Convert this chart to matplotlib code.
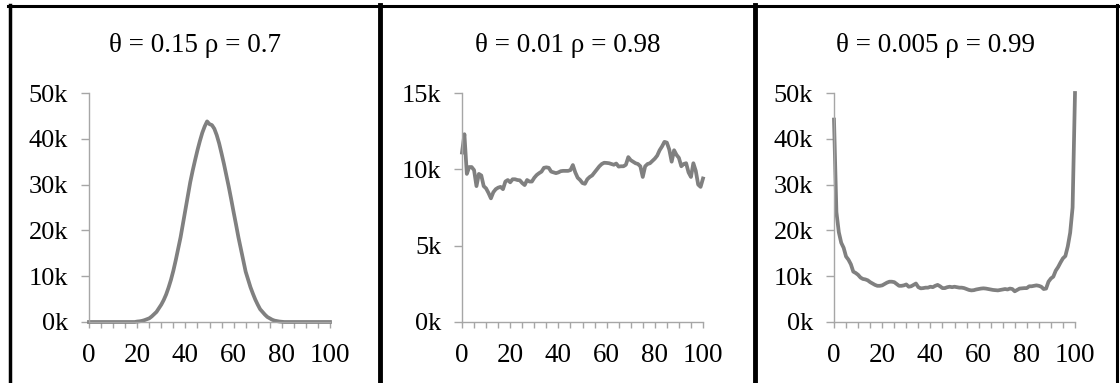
import matplotlib
matplotlib.use("Agg")
import matplotlib.pyplot as plt
from matplotlib.lines import Line2D

plt.rcParams['font.family'] = ['Liberation Serif', 'DejaVu Serif']

# x positions shared by all three panels
x = list(range(0, 101))

# theta = 0.15, rho = 0.7 (values in thousands)
series1 = [0.0] * 20 + [
    0.1, 0.15, 0.25, 0.4, 0.6, 0.8, 1.2, 1.7, 2.2, 3.0,
    3.8, 4.8, 6.0, 7.5, 9.2, 11.2, 13.5, 16.0, 18.5, 21.5,
    24.5, 27.5, 30.5, 33.0, 35.3, 37.5, 39.5, 41.3, 42.7, 43.8,
    43.2, 43.0, 42.2, 40.8, 39.0, 36.8, 34.5, 32.0, 29.5, 26.8,
    24.0, 21.3, 18.5, 16.0, 13.5, 11.0, 9.3, 7.6, 6.2, 4.9,
    3.8, 2.8, 2.2, 1.6, 1.1, 0.8, 0.5, 0.3, 0.2, 0.1,
    0.05] + [0.0] * 20

# theta = 0.01, rho = 0.98
series2 = [
    11.1, 12.3, 9.7, 10.15, 10.15, 9.95, 8.9, 9.7, 9.6, 8.9,
    8.75, 8.45, 8.1, 8.5, 8.7, 8.8, 8.85, 8.7, 9.2, 9.3,
    9.15, 9.35, 9.35, 9.3, 9.28, 9.1, 8.97, 9.3, 9.2, 9.2,
    9.45, 9.63, 9.75, 9.85, 10.1, 10.13, 10.1, 9.85, 9.8, 9.75,
    9.8, 9.88, 9.9, 9.9, 9.9, 9.95, 10.28, 9.8, 9.45, 9.3,
    9.1, 9.05, 9.35, 9.5, 9.6, 9.8, 10.0, 10.2, 10.35, 10.43,
    10.42, 10.4, 10.35, 10.3, 10.38, 10.18, 10.2, 10.2, 10.3, 10.8,
    10.6, 10.5, 10.4, 10.35, 10.2, 9.5, 10.2, 10.35, 10.4, 10.55,
    10.7, 10.9, 11.25, 11.5, 11.8, 11.75, 11.3, 10.5, 11.25, 10.95,
    10.75, 10.2, 10.35, 10.4, 9.8, 9.5, 10.4, 9.9, 9.0, 8.85,
    9.4]

# theta = 0.005, rho = 0.99
series3 = [
    44.2, 24.0, 19.6, 17.3, 16.2, 14.3, 13.6, 12.6, 11.0, 10.7,
    10.3, 9.7, 9.4, 9.3, 9.1, 8.7, 8.4, 8.1, 7.9, 7.9,
    8.0, 8.3, 8.6, 8.8, 8.8, 8.7, 8.3, 7.9, 7.9, 8.0,
    8.2, 7.7, 7.8, 8.1, 8.4, 7.6, 7.35, 7.4, 7.5, 7.5,
    7.7, 7.6, 7.9, 8.1, 7.8, 7.4, 7.4, 7.6, 7.7, 7.6,
    7.7, 7.6, 7.5, 7.5, 7.4, 7.2, 7.0, 6.9, 6.95, 7.1,
    7.2, 7.3, 7.35, 7.3, 7.2, 7.1, 7.0, 6.95, 6.9, 7.0,
    7.1, 7.2, 7.1, 7.3, 7.2, 6.7, 7.0, 7.3, 7.35, 7.4,
    7.4, 7.8, 7.8, 7.9, 8.0, 7.9, 7.7, 7.2, 7.3, 8.8,
    9.5, 9.9, 11.2, 12.0, 13.0, 13.9, 14.4, 16.5, 19.5, 25.0,
    50.0]

titles = ['\u03b8 = 0.15 \u03c1 = 0.7', '\u03b8 = 0.01 \u03c1 = 0.98', '\u03b8 = 0.005 \u03c1 = 0.99']
y_ticks = [[0, 10, 20, 30, 40, 50], [0, 5, 10, 15], [0, 10, 20, 30, 40, 50]]
x_ticks = list(range(0, 101, 5))

W, H = 1120, 383
fig = plt.figure(figsize=(W / 100, H / 100), dpi=100)

axis_left = [89, 462, 834]      # pixel x of each y-axis
panel_edges = [(10, 380), (380, 755), (755, 1117)]
line_gray = '#808080'
axis_gray = '#a6a6a6'

for i, data in enumerate([series1, series2, series3]):
    ax = fig.add_axes([axis_left[i] / W, (H - 322) / H, 241 / W, 229 / H])
    ax.plot(x, data, color=line_gray, lw=2.7, solid_joinstyle='round', clip_on=False)
    ax.set_xlim(0, 100)
    ax.set_ylim(0, y_ticks[i][-1])
    for s in ['top', 'right']:
        ax.spines[s].set_visible(False)
    for s in ['left', 'bottom']:
        ax.spines[s].set_color(axis_gray)
        ax.spines[s].set_linewidth(1.0)
    ax.set_xticks(x_ticks)
    ax.set_xticklabels([str(t) if t % 20 == 0 else '' for t in x_ticks], fontsize=19.5)
    ax.set_yticks(y_ticks[i])
    ax.set_yticklabels([f'{t}k' for t in y_ticks[i]], fontsize=19)
    ax.tick_params(axis='x', direction='out', length=4, width=1, color=axis_gray, pad=11)
    ax.tick_params(axis='y', direction='out', length=6, width=1, color=axis_gray, pad=9)
    ax.patch.set_visible(False)

    l, r = panel_edges[i]
    fig.text((l + r) / 2 / W, 1 - 46 / H, titles[i], ha='center', va='center', fontsize=19.5)

# black frames around the panels
frame_kw = dict(color='black', transform=fig.transFigure)
fig.add_artist(Line2D([8 / W, 1119 / W], [1 - 5.5 / H] * 2, lw=2.2, **frame_kw))
for xp, lw in [(10, 2.5), (380, 3.5), (755, 3.5), (1117, 2.2)]:
    fig.add_artist(Line2D([xp / W] * 2, [0, 1 - 4.5 / H], lw=lw, **frame_kw))

fig.savefig('out.png', dpi=100)
